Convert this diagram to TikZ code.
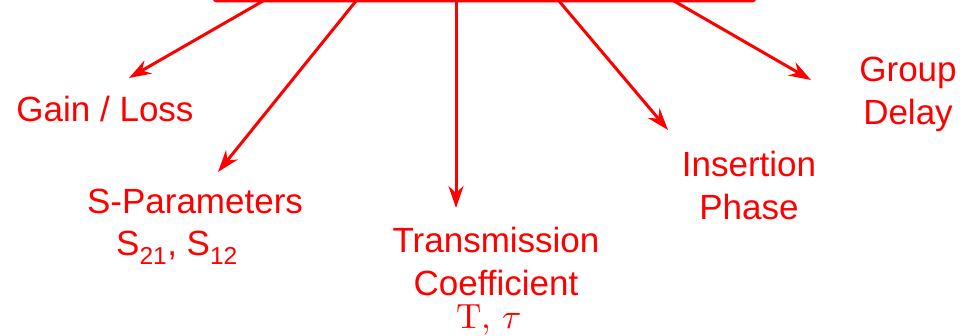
\documentclass[tikz,border=0pt]{standalone}
\usepackage{fontspec}
\usepackage{unicode-math}
\setmainfont{Liberation Sans}
\setmathfont{Latin Modern Math}
\usetikzlibrary{arrows.meta}
\definecolor{msred}{RGB}{255,0,0}

\begin{document}
\begin{tikzpicture}[x=1pt,y=1pt,
  lbl/.style={text=msred, font=\fontsize{35}{43}\selectfont, align=center, inner sep=0pt, anchor=base},
  arr/.style={draw=msred, line width=3pt, -{Stealth[length=22pt,width=15pt,inset=7pt]}}]
\useasboundingbox (0,0) rectangle (975,335);
% Measurement box (cut off at top)
\node[draw=msred, line width=3pt, rounded corners=3pt, outer sep=0pt,
  minimum width=541pt, minimum height=80pt, anchor=south] (meas) at (484.5,334) {};
% Labels (placed on the baseline of their last line)
\node[lbl] (gain) at (105,213) {Gain / Loss};
\node[lbl] (spar) at (195,79) {S-Parameters\\S\textsubscript{21}, S\textsubscript{12}\hspace*{36pt}};
\node[lbl] (trans) at (496,7) {Transmission\\Coefficient\hspace*{16pt}\\[-10pt]$\symup{T},\,\tau$\hspace*{14pt}};
\node[lbl] (phase) at (749,115) {Insertion\\Phase};
\node[lbl] (delay) at (908,210) {Group\\Delay};
% Arrow tips
\coordinate (gain-tip) at (129,257);
\coordinate (spar-tip) at (218,163);
\coordinate (trans-tip) at (456,127);
\coordinate (phase-tip) at (668,205);
\coordinate (delay-tip) at (811,255);
% Arrows
\draw[arr] ([xshift=-221.5pt]meas.south) -- (gain-tip);
\draw[arr] ([xshift=-128.5pt]meas.south) -- (spar-tip);
\draw[arr] ([xshift=-28.5pt]meas.south) -- (trans-tip);
\draw[arr] ([xshift=74.5pt]meas.south) -- (phase-tip);
\draw[arr] ([xshift=189.5pt]meas.south) -- (delay-tip);
\end{tikzpicture}
\end{document}
